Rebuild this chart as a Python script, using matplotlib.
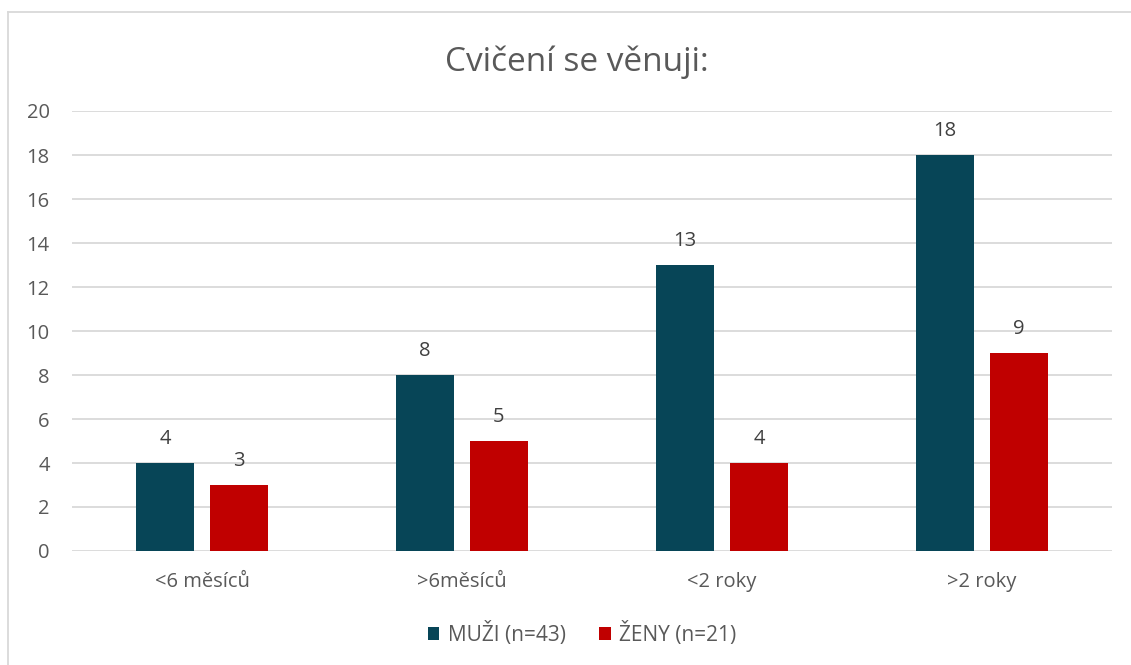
import matplotlib
matplotlib.use("Agg")
import matplotlib.pyplot as plt
import numpy as np
from matplotlib.lines import Line2D

categories = ["<6 měsíců", ">6měsíců", "<2 roky", ">2 roky"]
muzi = [4, 8, 13, 18]
zeny = [3, 5, 4, 9]
series_labels = ["MUŽI (n=43)", "ŽENY (n=21)"]
yticks = [0, 2, 4, 6, 8, 10, 12, 14, 16, 18, 20]
title = "Cvičení se věnuji:"

plt.rcParams['font.family'] = ['Open Sans', 'DejaVu Sans']
txt = "#595959"
c_m = "#074557"
c_z = "#C00000"

fig = plt.figure(figsize=(11.31, 6.65), dpi=100)
ax = fig.add_axes([72/1131, 1-551/665, 1040/1131, 440/665])

x = np.arange(len(categories))
w = 0.223
off = 0.142
b1 = ax.bar(x - off, muzi, w, color=c_m, label=series_labels[0], zorder=3)
b2 = ax.bar(x + off, zeny, w, color=c_z, label=series_labels[1], zorder=3)
for bars in (b1, b2):
    ax.bar_label(bars, padding=10, fontsize=14.5, color="#404040")

ax.set_xlim(-0.5, 3.5)
ax.set_ylim(0, 20)
ax.set_yticks(yticks)
ax.set_xticks(x)
ax.set_xticklabels(categories)
ax.yaxis.grid(True, color="#D9D9D9", linewidth=1.3, zorder=0)
for s in ax.spines.values():
    s.set_visible(False)
ax.tick_params(axis='both', length=0, labelsize=14.5, colors=txt)
ax.tick_params(axis='y', pad=16)
ax.tick_params(axis='x', pad=15)

fig.text(577/1131, 1-62/665, title, ha='center', va='center', fontsize=24, color=txt)

leg = ax.legend(loc='center', bbox_to_anchor=(510/1040, -83/440), ncol=2,
                frameon=False, fontsize=15, handlelength=0.55, handleheight=0.55,
                columnspacing=1.6, handletextpad=0.4, labelcolor=txt)

# figure border (left and top)
fig.add_artist(Line2D([8/1131, 8/1131], [0, 1-12/665], transform=fig.transFigure, color="#D9D9D9", lw=1.3))
fig.add_artist(Line2D([8/1131, 1], [1-12/665, 1-12/665], transform=fig.transFigure, color="#D9D9D9", lw=1.3))

fig.savefig("out.png", dpi=100)
